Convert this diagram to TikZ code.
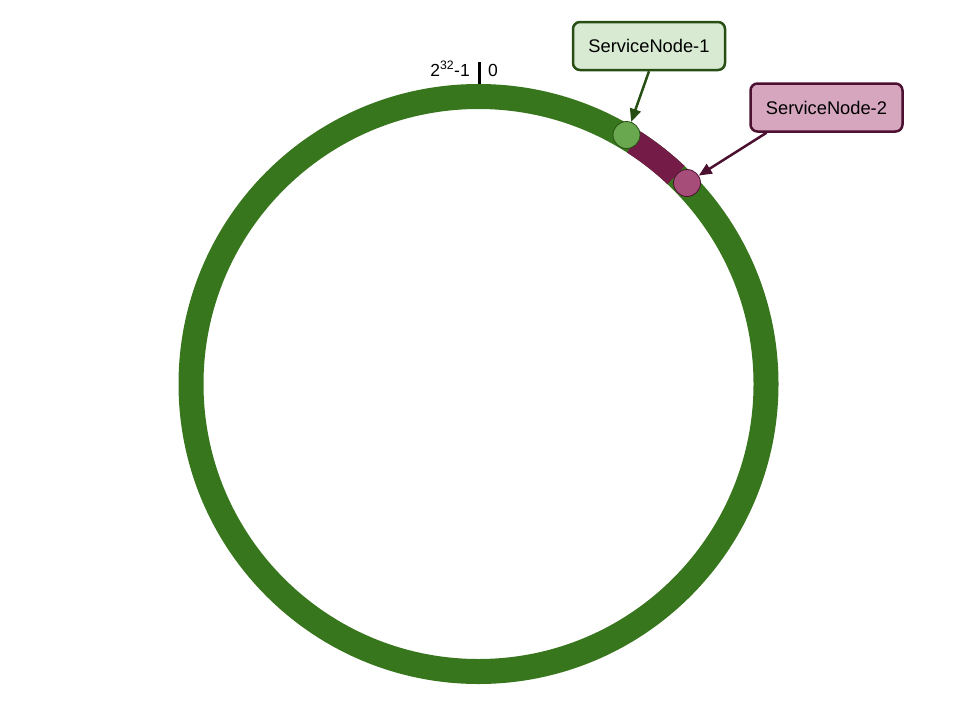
\documentclass[tikz,border=0pt]{standalone}
\usepackage{fontspec}
\setmainfont{Liberation Sans}
\usetikzlibrary{arrows.meta}
\definecolor{ringgreen}{HTML}{38761D}
\definecolor{ringpurple}{HTML}{741B47}
\definecolor{dotgreen}{HTML}{6AA84F}
\definecolor{dotpurple}{HTML}{A64D79}
\definecolor{boxgreenfill}{HTML}{D9EAD3}
\definecolor{boxgreenline}{HTML}{274E13}
\definecolor{boxpurplefill}{HTML}{D5A6BD}
\definecolor{boxpurpleline}{HTML}{4C1130}
\tikzset{
  lbl/.style={font=\fontsize{17.5}{20}\selectfont, inner sep=0pt},
  svcbox/.style={rounded corners=7pt, line width=2.5pt, minimum width=152pt, minimum height=48pt, font=\fontsize{18.3}{21}\selectfont},
  dot/.style={circle, minimum size=27pt, inner sep=0pt, line width=0.8pt},
  pointer/.style={line width=2.5pt, -{Triangle[length=13pt,width=11pt]}}
}
\begin{document}
\begin{tikzpicture}[x=1pt,y=-1pt]
\useasboundingbox (0,0) rectangle (960,720);
\coordinate (c) at (478.5,384);
% ring
\draw[ringgreen, line width=25pt] (c) circle[radius=287.5];
\draw[ringpurple, line width=25pt] (c) ++(-57.3:287.5) arc[start angle=-57.3, end angle=-46.6, radius=287.5];
% tick and labels
\coordinate (ttop) at (479.5,62);
\coordinate (tbot) at (479.5,84);
\draw[black, line width=2.8pt] (ttop) -- (tbot);
\node[lbl, anchor=base east] (lmax) at (470,76) {2\textsuperscript{32}-1};
\node[lbl, anchor=base west] (lzero) at (488,76) {0};
% service nodes on ring
\node[dot, fill=dotgreen, draw=boxgreenline] (n1) at (626.5,135) {};
\node[dot, fill=dotpurple, draw=boxpurpleline] (n2) at (687,183) {};
% boxes
\node[svcbox, draw=boxgreenline, fill=boxgreenfill] (b1) at (649,46) {ServiceNode-1};
\node[svcbox, draw=boxpurpleline, fill=boxpurplefill] (b2) at (826.5,107.5) {ServiceNode-2};
% arrows
\draw[pointer, boxgreenline] (b1.south) -- (n1);
\draw[pointer, boxpurpleline] ([xshift=-60pt]b2.south) -- (n2);
\end{tikzpicture}
\end{document}
